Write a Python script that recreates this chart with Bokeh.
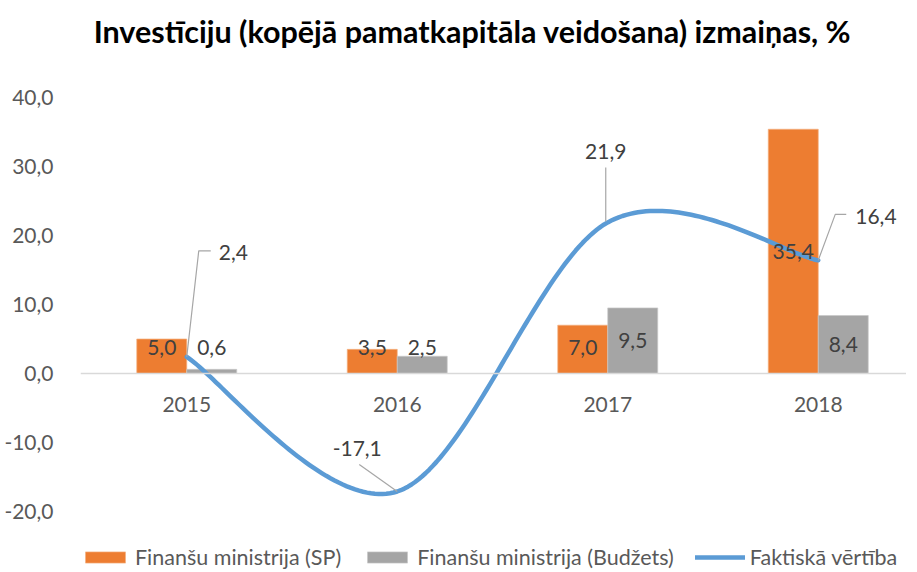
from bokeh.plotting import figure
from bokeh.models import Range1d, FixedTicker, Legend, LegendItem, ColumnDataSource, Span
from bokeh.core.properties import value
from bokeh.embed import file_html
from bokeh.resources import INLINE
import numpy as np

# ---- data ----
years = ["2015", "2016", "2017", "2018"]
fm_sp = [5.0, 3.5, 7.0, 35.4]          # Finanšu ministrija (SP)
fm_budget = [0.6, 2.5, 9.5, 8.4]       # Finanšu ministrija (Budžets)
actual = [2.4, -17.1, 21.9, 16.4]      # Faktiskā vērtība
y_ticks = [-20, -10, 0, 10, 20, 30, 40]
title_text = "Investīciju (kopējā pamatkapitāla veidošana) izmaiņas, %"

def fmt(v):
    return f"{v:.1f}".replace(".", ",")

# ---- style / layout ----
FONT = "Lato"
ORANGE = "#ED7D31"
GRAY = "#A5A5A5"
BLUE = "#5B9BD5"
TXT = "#404040"
AX_TXT = "#595959"
OX, OY = 3, 1                      # observed canvas origin on page
W, H = 906, 570
FL = 80
PPX, PPY = 210.5, 6.9              # pixels per category / per unit
PAGE_X_LEFT = OX + FL + 1          # page x of frame left (category -0.5)
PAGE_Y_ZERO = 374                  # page y of value 0
X0 = -0.5 - 1 / PPX
X1 = -0.5 + (OX + W - PAGE_X_LEFT) / PPX
Y1 = (PAGE_Y_ZERO - OY) / PPY
Y0 = -(OY + H - PAGE_Y_ZERO) / PPY
BAR_W = 0.2375
LABEL_MIN = 3.7
FS = "21px"

xs = np.arange(len(years), dtype=float)

p = figure(width=W, height=H, output_backend="svg", toolbar_location=None,
           x_range=Range1d(X0, X1), y_range=Range1d(Y0, Y1),
           min_border_left=FL, min_border_right=0, min_border_top=0,
           min_border_bottom=0, x_axis_location=None, y_axis_location="left")
p.outline_line_color = None
p.grid.visible = False

# y axis
ya = p.yaxis[0]
ya.ticker = FixedTicker(ticks=y_ticks)
ya.major_label_overrides = {t: fmt(t) for t in y_ticks}
ya.axis_line_color = None
ya.major_tick_line_color = None
ya.minor_tick_line_color = None
ya.major_label_text_font = FONT
ya.major_label_text_font_size = FS
ya.major_label_text_color = AX_TXT
ya.major_label_standoff = 21

# zero axis line + category labels
p.add_layout(Span(location=0, dimension="width", line_color="#D9D9D9", line_width=1.5))
p.text(x=xs, y=[0] * len(xs), text=years, y_offset=31, text_font=value(FONT),
       text_font_size=FS, text_color=AX_TXT, text_align="center", text_baseline="middle")

# title
p.text(x=[-0.5 + (475 - PAGE_X_LEFT) / PPX], y=[(PAGE_Y_ZERO - 31) / PPY], text=[title_text],
       text_font=value(FONT), text_font_style="bold", text_font_size="30.5px",
       text_color="#000000", text_align="center", text_baseline="middle")

# bars
src = ColumnDataSource(dict(
    x_sp=xs - BAR_W / 2, x_b=xs + BAR_W / 2, sp=fm_sp, bud=fm_budget,
    sp_lab=[fmt(v) for v in fm_sp], bud_lab=[fmt(v) for v in fm_budget],
    sp_ly=[max(v / 2, LABEL_MIN) for v in fm_sp],
    bud_ly=[max(v / 2, LABEL_MIN) for v in fm_budget],
))
r_sp = p.vbar(x="x_sp", top="sp", bottom=0, width=BAR_W, source=src,
              fill_color=ORANGE, line_color="#F4B183", line_width=0.7)
r_b = p.vbar(x="x_b", top="bud", bottom=0, width=BAR_W, source=src,
             fill_color=GRAY, line_color="#C9C9C9", line_width=0.7)

# smoothed line (Catmull-Rom style Bezier through the data points)
pts = list(zip(xs, actual))
cx, cy = [], []
n = len(pts)
for i in range(n - 1):
    p0 = pts[max(i - 1, 0)]
    p1 = pts[i]
    p2 = pts[i + 1]
    p3 = pts[min(i + 2, n - 1)]
    c1 = (p1[0] + (p2[0] - p0[0]) / 6, p1[1] + (p2[1] - p0[1]) / 6)
    c2 = (p2[0] - (p3[0] - p1[0]) / 6, p2[1] - (p3[1] - p1[1]) / 6)
    t = np.linspace(0, 1, 60)
    bx = (1 - t) ** 3 * p1[0] + 3 * (1 - t) ** 2 * t * c1[0] + 3 * (1 - t) * t ** 2 * c2[0] + t ** 3 * p2[0]
    by = (1 - t) ** 3 * p1[1] + 3 * (1 - t) ** 2 * t * c1[1] + 3 * (1 - t) * t ** 2 * c2[1] + t ** 3 * p2[1]
    if i > 0:
        bx, by = bx[1:], by[1:]
    cx.extend(bx)
    cy.extend(by)
r_line = p.line(cx, cy, line_color=BLUE, line_width=4.5, line_cap="round", line_join="round")

# bar labels
for col, ycol, xcol in (("sp_lab", "sp_ly", "x_sp"), ("bud_lab", "bud_ly", "x_b")):
    p.text(x=xcol, y=ycol, text=col, source=src, text_font=value(FONT),
           text_font_size=FS, text_color=TXT, text_align="center",
           text_baseline="middle")

# line labels with leader lines (pixel offsets relative to data point)
leaders = [
    [(0, 0), (12, 106), (24, 106)],
    [(0, 0), (-38, 27)],
    [(-2, 1), (-2, 55)],
    [(0, 0), (17, 46), (28, 46)],
]
text_off = [(32, 104, "left"), (-40, 43, "center"), (-2, 71, "center"), (37, 44, "left")]
for i, (xv, yv) in enumerate(pts):
    lx = [xv + dx / PPX for dx, dy in leaders[i]]
    ly = [yv + dy / PPY for dx, dy in leaders[i]]
    p.line(lx, ly, line_color="#A6A6A6", line_width=1.2)
    dx, dy, al = text_off[i]
    p.text(x=[xv + dx / PPX], y=[yv + dy / PPY], text=[fmt(yv)], text_font=value(FONT),
           text_font_size=FS, text_color=TXT, text_align=al, text_baseline="middle")

legend = Legend(items=[
    LegendItem(label="Finanšu ministrija (SP)", renderers=[r_sp]),
    LegendItem(label="Finanšu ministrija (Budžets)", renderers=[r_b]),
    LegendItem(label="Faktiskā vērtība", renderers=[r_line]),
], location=(0, 0), orientation="horizontal")
legend.label_text_font = FONT
legend.label_text_font_size = "21.5px"
legend.label_text_color = AX_TXT
legend.glyph_width = 50
legend.glyph_height = 14
legend.label_standoff = 5
legend.spacing = 21
legend.padding = 0
legend.margin = 0
legend.border_line_color = None
legend.background_fill_alpha = 0
p.add_layout(legend)

open("out.html", "w").write(file_html(p, INLINE))
